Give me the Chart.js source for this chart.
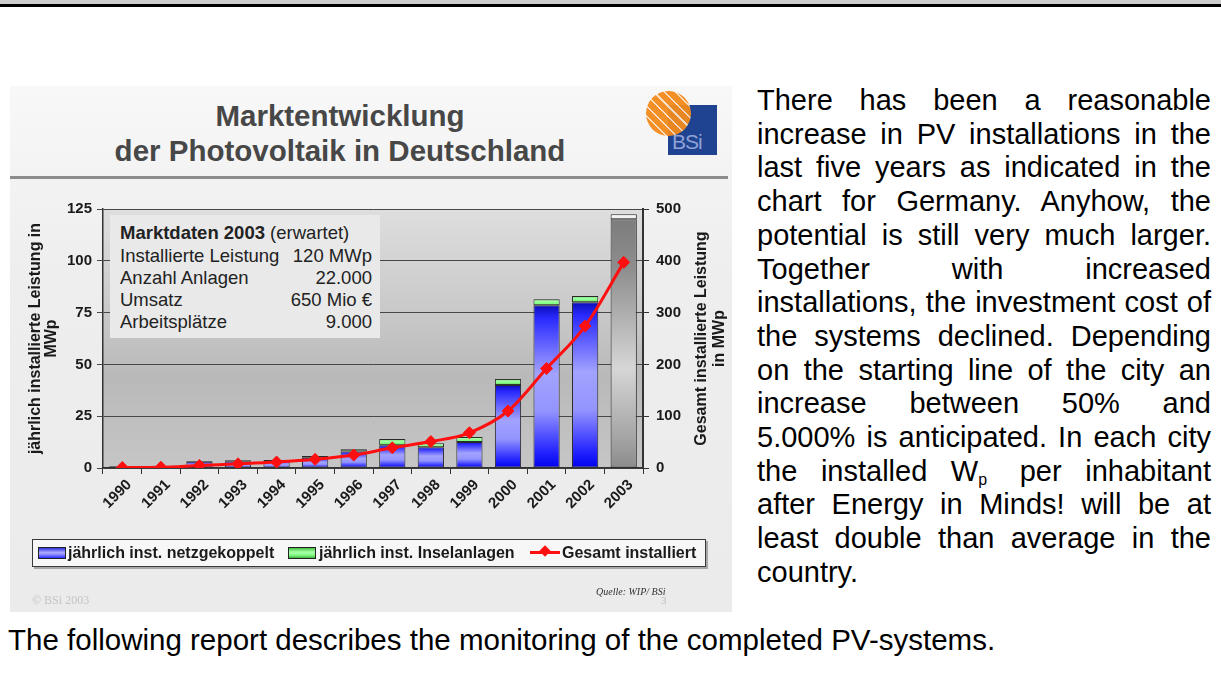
<!DOCTYPE html>
<html><head><meta charset="utf-8">
<script src="https://cdn.jsdelivr.net/npm/chart.js@4.4.1/dist/chart.umd.min.js"></script>
<style>
html,body{margin:0;padding:0;background:#fff;width:1221px;height:683px;overflow:hidden;font-family:'Liberation Sans',Arial,sans-serif;}
#topgray{position:absolute;left:0;top:0;width:1221px;height:4px;background:#cdcdcd;}
#topblack{position:absolute;left:0;top:4px;width:1221px;height:3px;background:#000;}
#img{position:absolute;left:10px;top:86px;width:722px;height:526px;background:linear-gradient(#f8f8f8,#eeeeee 35%,#ebebeb);overflow:hidden;}
#title{position:absolute;left:0;width:660px;top:12px;text-align:center;font-weight:bold;font-size:29.5px;line-height:35px;color:#474747;}
#rule{position:absolute;left:0;top:90px;width:718px;height:3px;background:#8c8c8c;}
#sq{position:absolute;left:658px;top:19px;width:49px;height:50px;background:#1f4391;}
#sq span{position:absolute;left:4px;bottom:1px;font-size:21px;color:#8fa2d6;font-weight:normal;letter-spacing:-1px;}
#circ{position:absolute;left:636px;top:5px;width:45px;height:45px;border-radius:50%;
 background:repeating-linear-gradient(45deg,#f28a1c 0 6px,#fbe0c0 6px 7.5px);opacity:0.95;}
#chart{position:absolute;left:0;top:99px;}
#inset{position:absolute;left:100px;top:129px;width:270px;height:123px;background:#e9e9e9;color:#222;font-size:18.5px;}
#inset div{position:absolute;left:10px;right:8px;height:22px;line-height:22px;}
#inset .v{position:absolute;right:0;top:0;}
#legend{position:absolute;left:22px;top:453px;width:672px;height:26px;background:#f7f7f7;border:1px solid #3a3a3a;box-shadow:2px 2px 0 #a8a8a8;font-weight:bold;font-size:16px;color:#1a1a1a;}
#legend .t{position:absolute;top:4px;line-height:18px;white-space:nowrap;}
#legend .sw{position:absolute;top:7px;width:26px;height:10px;border:1px solid #222;}
#legend .blue{background:linear-gradient(#3030e0,#a8a8ff 45%,#9a9aff 60%,#2a2aff);}
#legend .green{background:linear-gradient(#40c040,#a8ffa8 40%,#88ff88 70%,#40b040);}
#legend .ln{position:absolute;top:11px;width:30px;height:3px;background:#ff1010;}
#legend .dm{position:absolute;top:7px;width:8px;height:8px;background:#ff1010;transform:rotate(45deg);}
#copy{position:absolute;left:22px;top:507px;font-family:'Liberation Serif','DejaVu Serif',serif;font-size:12px;color:#c4c4c4;}
#src{position:absolute;left:586px;top:500px;font-family:'Liberation Serif','DejaVu Serif',serif;font-style:italic;font-size:10px;color:#333;}
#pg{position:absolute;left:651px;top:508px;font-family:'Liberation Serif','DejaVu Serif',serif;font-size:11px;color:#bbb;}
#para{position:absolute;left:757px;top:84px;width:454px;font-size:29px;line-height:33.7px;text-align:justify;color:#000;}
#para sub{font-size:16px;vertical-align:-4px;line-height:0;padding-right:9px;}
#foot{position:absolute;left:8px;top:623px;font-size:29.5px;line-height:33px;color:#000;white-space:nowrap;}
</style></head>
<body>
<div id="topgray"></div><div id="topblack"></div>
<div id="img">
  <div id="title">Marktentwicklung<br>der Photovoltaik in Deutschland</div>
  <div id="sq"><span>BSi</span></div>
  <div id="circ"></div>
  <div id="rule"></div>
  <canvas id="chart" width="722" height="427"></canvas>
  <div id="inset">
    <div style="top:7px"><b>Marktdaten 2003</b> (erwartet)</div>
    <div style="top:30px">Installierte Leistung<span class="v">120 MWp</span></div>
    <div style="top:52px">Anzahl Anlagen<span class="v">22.000</span></div>
    <div style="top:74px">Umsatz<span class="v">650 Mio €</span></div>
    <div style="top:96px">Arbeitsplätze<span class="v">9.000</span></div>
  </div>
  <div id="legend">
    <span class="sw blue" style="left:5px"></span><span class="t" style="left:35px">jährlich inst. netzgekoppelt</span>
    <span class="sw green" style="left:255px"></span><span class="t" style="left:286px">jährlich inst. Inselanlagen</span>
    <span class="ln" style="left:497px"></span><span class="dm" style="left:508px"></span><span class="t" style="left:529px">Gesamt installiert</span>
  </div>
  <div id="copy">© BSi 2003</div>
  <div id="src">Quelle: WIP/ BSi</div>
  <div id="pg">3</div>
</div>
<div id="para">There has been a reasonable increase in PV installations in the last five years as indicated in the chart for Germany. Anyhow, the potential is still very much larger. Together with increased installations, the investment cost of the systems declined. Depending on the starting line of the city an increase between 50% and 5.000% is anticipated. In each city the installed W<sub>p</sub> per inhabitant after Energy in Minds! will be at least double than average in the country.</div>
<div id="foot">The following report describes the monitoring of the completed PV-systems.</div>
<script>
const years = ['1990','1991','1992','1993','1994','1995','1996','1997','1998','1999','2000','2001','2002','2003'];
const netzgekoppelt = [0.8, 0.5, 3.0, 3.2, 3.4, 5.0, 8.0, 11.0, 10.0, 12.5, 40.0, 78.5, 80.0, 120.0];
const inselanlagen  = [0.1, 0.1, 0.4, 0.6, 0.5, 0.8, 1.0, 3.0, 2.0, 2.5, 3.0, 3.0, 3.0, 2.5];
const gesamt = [1.0, 1.5, 5.0, 8.0, 11.5, 16.7, 25.0, 39.0, 51.0, 68.0, 110.0, 192.0, 274.0, 397.0];
const leftTitle = ['jährlich installierte Leistung in', 'MWp'];
const rightTitle = ['Gesamt installierte Leistung', 'in MWp'];

function barFill(which) {
  return (c) => {
    const chart = c.chart, ys = chart.scales.y;
    if (!ys || !chart.chartArea || c.type !== 'data') return which === 'blue' ? '#6a6aff' : '#88ff88';
    const i = c.dataIndex, last = i === years.length - 1;
    const base = which === 'blue' ? 0 : netzgekoppelt[i];
    const val = which === 'blue' ? netzgekoppelt[i] : netzgekoppelt[i] + inselanlagen[i];
    const top = ys.getPixelForValue(val);
    let bottom = ys.getPixelForValue(base);
    if (bottom - top < 1) bottom = top + 1;
    const g = chart.ctx.createLinearGradient(0, top, 0, bottom);
    if (which === 'blue' && last) {
      g.addColorStop(0, '#7c7c7c'); g.addColorStop(0.2, '#8e8e8e');
      g.addColorStop(0.6, '#d6d6d6'); g.addColorStop(0.88, '#a4a4a4'); g.addColorStop(1, '#8c8c8c');
    } else if (which === 'blue') {
      g.addColorStop(0, '#0c0cb8'); g.addColorStop(0.08, '#2a2aff');
      g.addColorStop(0.42, '#a2a2ff'); g.addColorStop(0.65, '#9494ff');
      g.addColorStop(0.9, '#2424ff'); g.addColorStop(1, '#0000ee');
    } else if (last) {
      g.addColorStop(0, '#ffffff'); g.addColorStop(1, '#e6e6e6');
    } else {
      g.addColorStop(0, '#3aa83a'); g.addColorStop(0.3, '#a8ffa8');
      g.addColorStop(0.7, '#80ff80'); g.addColorStop(1, '#2e8e2e');
    }
    return g;
  };
}

const bgPlugin = {
  id: 'plotBg',
  beforeDraw(chart) {
    const {ctx, chartArea: a} = chart;
    const g = ctx.createLinearGradient(0, a.top, 0, a.bottom);
    g.addColorStop(0, '#dedede'); g.addColorStop(0.45, '#c6c6c6');
    g.addColorStop(0.65, '#b9b9b9'); g.addColorStop(1, '#c6c6c6');
    ctx.save(); ctx.fillStyle = g; ctx.fillRect(a.left, a.top, a.right - a.left, a.bottom - a.top); ctx.restore();
  }
};
const titlePlugin = {
  id: 'axisTitles',
  afterDraw(chart) {
    const {ctx, chartArea: a} = chart;
    const cy = (a.top + a.bottom) / 2;
    ctx.save();
    ctx.font = 'bold 16px "Liberation Sans", Arial, sans-serif';
    ctx.fillStyle = '#1a1a1a'; ctx.textAlign = 'center'; ctx.textBaseline = 'middle';
    const draw = (lines, x0, step) => {
      lines.forEach((t, k) => {
        ctx.save(); ctx.translate(x0 + k * step, cy); ctx.rotate(-Math.PI / 2); ctx.fillText(t, 0, 0); ctx.restore();
      });
    };
    draw(leftTitle, 26, 16);
    draw(rightTitle, 692, 18);
    ctx.restore();
  }
};

const tickFont = {family: '"Liberation Sans", Arial, sans-serif', size: 15, weight: 'bold'};
new Chart(document.getElementById('chart'), {
  type: 'bar',
  data: {
    labels: years,
    datasets: [
      {type: 'line', label: 'Gesamt installiert', data: gesamt, yAxisID: 'y2', order: 0,
       borderColor: '#ff1010', backgroundColor: '#ff1010', borderWidth: 3, cubicInterpolationMode: 'monotone',
       pointStyle: 'rectRot', pointRadius: 6, pointBackgroundColor: '#ff1010', pointBorderColor: '#ff1010', pointBorderWidth: 1},
      {label: 'jährlich inst. netzgekoppelt', data: netzgekoppelt, yAxisID: 'y', order: 1, stack: 's',
       backgroundColor: barFill('blue'), borderColor: '#2a2a2a', borderWidth: 1, borderSkipped: false,
       barPercentage: 0.68, categoryPercentage: 1},
      {label: 'jährlich inst. Inselanlagen', data: inselanlagen, yAxisID: 'y', order: 2, stack: 's',
       backgroundColor: barFill('green'), borderColor: '#2a2a2a', borderWidth: 1, borderSkipped: false,
       barPercentage: 0.68, categoryPercentage: 1}
    ]
  },
  options: {
    responsive: false, animation: false, devicePixelRatio: 1,
    layout: {padding: {top: 24, left: 0, right: 0, bottom: 0}},
    plugins: {legend: {display: false}, tooltip: {enabled: false}},
    scales: {
      x: {stacked: true, offset: true,
          grid: {display: true, drawOnChartArea: false, offset: true, tickLength: 6, color: '#333', lineWidth: 1},
          border: {color: '#333', width: 1.5},
          ticks: {autoSkip: false, maxRotation: 45, minRotation: 45, labelOffset: 7, padding: 2, color: '#1a1a1a', font: tickFont},
          afterFit(s) { s.height = 144; }},
      y: {position: 'left', stacked: true, min: 0, max: 125,
          ticks: {stepSize: 25, padding: 5, color: '#1a1a1a', font: tickFont},
          grid: {color: '#474747', lineWidth: 1, tickLength: 6},
          border: {color: '#333', width: 1.5},
          afterFit(s) { s.width = 93; }},
      y2: {position: 'right', min: 0, max: 500,
          ticks: {stepSize: 100, padding: 7, color: '#1a1a1a', font: tickFont},
          grid: {drawOnChartArea: false, tickLength: 6, color: '#333'},
          border: {color: '#333', width: 2},
          afterFit(s) { s.width = 89; }}
    }
  },
  plugins: [bgPlugin, titlePlugin]
});
</script>
</body></html>
